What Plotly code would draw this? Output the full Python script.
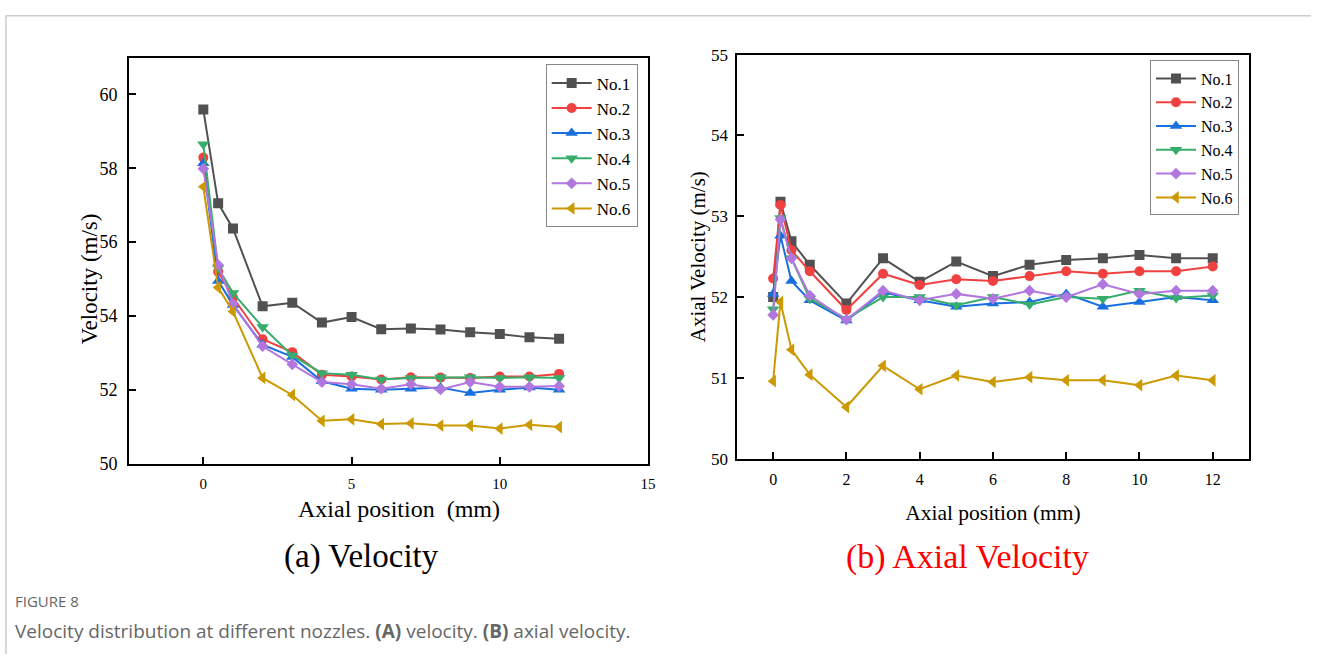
import plotly.graph_objects as go

# ---------------- data ----------------
names = ["No.1", "No.2", "No.3", "No.4", "No.5", "No.6"]
colors = ["#515151", "#F14040", "#1A6FDF", "#37AD6B", "#B177DE", "#CC9900"]
symbols = ["square", "circle", "triangle-up", "triangle-down", "diamond", "triangle-left"]

# (a) Velocity
x_a = [0, 0.5, 1, 2, 3, 4, 5, 6, 7, 8, 9, 10, 11, 12]
vel_no1 = [59.59, 57.05, 56.37, 54.26, 54.36, 53.82, 53.97, 53.64, 53.66, 53.63, 53.56, 53.51, 53.42, 53.38]
vel_no2 = [58.29, 55.20, 54.50, 53.37, 53.02, 52.41, 52.36, 52.28, 52.34, 52.33, 52.32, 52.36, 52.36, 52.43]
vel_no3 = [58.14, 54.95, 54.30, 53.22, 52.89, 52.23, 52.03, 52.00, 52.03, 52.06, 51.91, 52.00, 52.06, 52.00]
vel_no4 = [58.65, 55.30, 54.62, 53.70, 52.93, 52.45, 52.41, 52.28, 52.32, 52.34, 52.34, 52.32, 52.34, 52.32]
vel_no5 = [57.99, 55.38, 54.33, 53.18, 52.69, 52.21, 52.15, 52.03, 52.15, 52.01, 52.21, 52.08, 52.08, 52.10]
vel_no6 = [57.50, 54.77, 54.12, 52.32, 51.86, 51.16, 51.20, 51.07, 51.09, 51.03, 51.03, 50.95, 51.05, 50.99]

# (b) Axial velocity
x_b = [0, 0.2, 0.5, 1, 2, 3, 4, 5, 6, 7, 8, 9, 10, 11, 12]
ax_no1 = [52.00, 53.18, 52.69, 52.40, 51.92, 52.48, 52.19, 52.44, 52.26, 52.40, 52.46, 52.48, 52.52, 52.48, 52.48]
ax_no2 = [52.23, 53.14, 52.58, 52.32, 51.84, 52.29, 52.15, 52.22, 52.20, 52.26, 52.32, 52.29, 52.32, 52.32, 52.38]
ax_no3 = [52.04, 52.76, 52.20, 51.96, 51.71, 52.06, 51.96, 51.88, 51.92, 51.94, 52.04, 51.88, 51.94, 52.00, 51.96]
ax_no4 = [51.85, 52.98, 52.48, 51.98, 51.73, 52.00, 52.00, 51.90, 52.00, 51.91, 52.00, 51.98, 52.08, 51.99, 52.02]
ax_no5 = [51.78, 52.96, 52.48, 52.02, 51.72, 52.08, 51.96, 52.04, 51.98, 52.08, 52.00, 52.16, 52.04, 52.08, 52.08]
ax_no6 = [50.96, 51.94, 51.35, 51.04, 50.64, 51.15, 50.86, 51.03, 50.95, 51.01, 50.97, 50.97, 50.91, 51.03, 50.97]

vel_series = [vel_no1, vel_no2, vel_no3, vel_no4, vel_no5, vel_no6]
ax_series = [ax_no1, ax_no2, ax_no3, ax_no4, ax_no5, ax_no6]

# ---------------- figure ----------------
W, H = 1319, 664
SERIF = "Liberation Serif"

def px_x(p):
    return p / W

def px_y(p):
    return 1 - p / H

MSIZE = {"square": 10, "circle": 10, "diamond": 9,
         "triangle-up": 11, "triangle-down": 11, "triangle-left": 11}

fig = go.Figure()

for i in range(6):
    fig.add_trace(go.Scatter(
        x=x_a, y=vel_series[i], name=names[i], mode="lines+markers",
        line=dict(color=colors[i], width=2),
        marker=dict(symbol=symbols[i], size=MSIZE[symbols[i]], color=colors[i]),
        xaxis="x", yaxis="y", legend="legend",
    ))
for i in range(6):
    fig.add_trace(go.Scatter(
        x=x_b, y=ax_series[i], name=names[i], mode="lines+markers",
        line=dict(color=colors[i], width=2),
        marker=dict(symbol=symbols[i], size=MSIZE[symbols[i]], color=colors[i]),
        xaxis="x2", yaxis="y2", legend="legend2",
    ))

def axis_style(tick_size):
    return dict(
        showgrid=False, zeroline=False, showline=True, linecolor="black", linewidth=2,
        mirror=True, ticks="inside", ticklen=7, tickwidth=1.5, tickcolor="black",
        tickfont=dict(family=SERIF, size=tick_size, color="black"),
    )

fig.update_layout(
    width=W, height=H,
    margin=dict(l=0, r=0, t=0, b=0),
    paper_bgcolor="white", plot_bgcolor="white",
    font=dict(family=SERIF, color="black"),
    xaxis=dict(domain=[px_x(130), px_x(652)], range=[-2.5, 15], dtick=5, tick0=0,
               anchor="y", ticklabelstandoff=5, **axis_style(15)),
    yaxis=dict(domain=[px_y(468), px_y(50)], range=[50, 61], dtick=2, tick0=50,
               anchor="x", ticklabelstandoff=6, **axis_style(18)),
    xaxis2=dict(domain=[px_x(741), px_x(1257)], range=[-1, 13], dtick=2, tick0=0,
                anchor="y2",
                title=dict(text="Axial position (mm)", font=dict(family=SERIF, size=21.5), standoff=18),
                ticklabelstandoff=5, **axis_style(16)),
    yaxis2=dict(domain=[px_y(463), px_y(47)], range=[50, 55], dtick=1, tick0=50,
                anchor="x2",
                title=dict(text="Axial Velocity (m/s)", font=dict(family=SERIF, size=21), standoff=0),
                ticklabelstandoff=3, **axis_style(17)),
    legend=dict(x=px_x(549), y=px_y(57), xanchor="left", yanchor="top",
                bgcolor="white", bordercolor="#888888", borderwidth=1,
                font=dict(family=SERIF, size=17, color="black"),
                itemwidth=40),
    legend2=dict(x=px_x(1157), y=px_y(53), xanchor="left", yanchor="top",
                 bgcolor="white", bordercolor="#888888", borderwidth=1,
                 font=dict(family=SERIF, size=16, color="black"),
                 itemwidth=40),
    showlegend=True,
)

annotations = [
    # left panel axis titles (placed off-centre as in the original)
    dict(text="Axial position  (mm)", x=px_x(401), y=px_y(515), xref="paper", yref="paper",
         xanchor="center", yanchor="middle", showarrow=False,
         font=dict(family=SERIF, size=24, color="black")),
    dict(text="Velocity (m/s)", x=px_x(90), y=px_y(278), xref="paper", yref="paper",
         xanchor="center", yanchor="middle", showarrow=False, textangle=-90,
         font=dict(family=SERIF, size=23, color="black")),
    # panel titles
    dict(text="(a) Velocity", x=px_x(364), y=px_y(564), xref="paper", yref="paper",
         xanchor="center", yanchor="middle", showarrow=False,
         font=dict(family=SERIF, size=33, color="black")),
    dict(text="(b) Axial Velocity", x=px_x(973), y=px_y(564), xref="paper", yref="paper",
         xanchor="center", yanchor="middle", showarrow=False,
         font=dict(family=SERIF, size=34, color="#FF0000")),
    # caption
    dict(text="FIGURE 8", x=px_x(13), y=px_y(609), xref="paper", yref="paper",
         xanchor="left", yanchor="middle", showarrow=False,
         font=dict(family="Open Sans", size=15, color="#666666")),
    dict(text="Velocity distribution at different nozzles. <b>(A)</b> velocity. <b>(B)</b> axial velocity.",
         x=px_x(13), y=px_y(640), xref="paper", yref="paper",
         xanchor="left", yanchor="middle", showarrow=False,
         font=dict(family="Open Sans", size=19, color="#666666")),
]
fig.update_layout(annotations=annotations)

shapes = [
    dict(type="line", xref="paper", yref="paper", x0=px_x(6), x1=1, y0=px_y(7), y1=px_y(7),
         line=dict(color="#cccccc", width=1.5)),
    dict(type="line", xref="paper", yref="paper", x0=px_x(6), x1=px_x(6), y0=px_y(7), y1=0,
         line=dict(color="#cccccc", width=1.5)),
]
fig.update_layout(shapes=shapes)

fig.write_html("out.html")
